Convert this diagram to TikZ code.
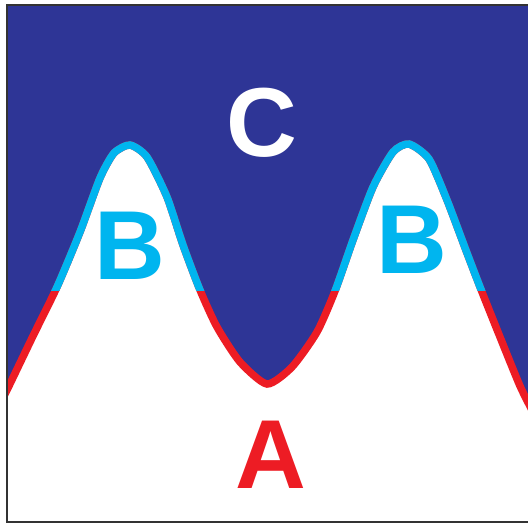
\documentclass[tikz,border=0pt]{standalone}
\usepackage{fontspec}
\setmainfont{Liberation Sans}
\definecolor{deepblue}{RGB}{46,53,150}
\definecolor{ridgered}{RGB}{237,28,36}
\definecolor{ridgecyan}{RGB}{0,181,239}
\def\ridge{plot[smooth, tension=0.4] coordinates {(4,396) (8,388) (33,336) (57,287) (80,232) (100,178) (114,153) (130,145) (147,157) (167,197) (183,245) (200,290) (217,327) (240,362) (267,384) (292,367) (317,332) (335,291) (353,240) (373,187) (393,152) (409,144) (429,159) (447,200) (467,253) (482,292) (500,337) (520,386) (534,414)}}
\tikzset{region/.style={font={\fontsize{98}{98}\selectfont\bfseries}, inner sep=0pt}}
\begin{document}
\begin{tikzpicture}[x=1pt, y=-1pt]

\useasboundingbox (0,0) rectangle (528,525);

\begin{scope}
\clip (7,5) rectangle (532,522);
\fill[deepblue] (7,5) rectangle (532,522);
\fill[white] \ridge -- (534,522) -- (4,522) -- cycle;

\draw[ridgered, line width=7.5pt] \ridge;
\begin{scope}
\clip (0,0) rectangle (540,290);
\draw[ridgecyan, line width=7.5pt] \ridge;
\end{scope}
\end{scope}

\draw[black!80, line width=2.5pt] (7,5) rectangle (532,522);

\node [region, text=white] (c) at (262,123) {C};
\node [region, text=ridgecyan] (bleft) at (130,246) {B};
\node [region, text=ridgecyan] (bright) at (412,240) {B};
\node [region, text=ridgered] (a) at (271,455) {A};

\end{tikzpicture}
\end{document}
